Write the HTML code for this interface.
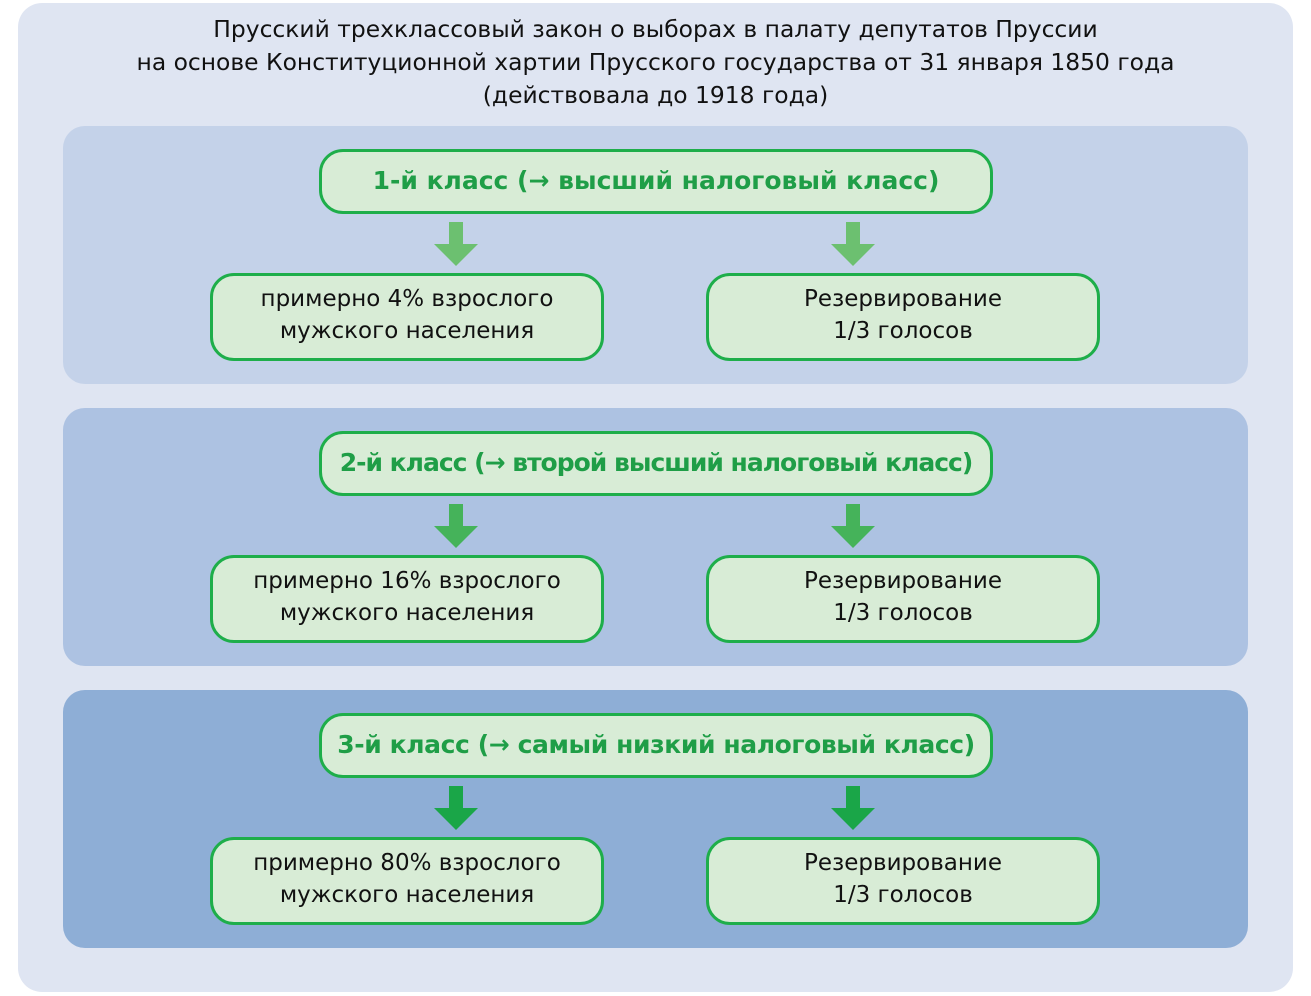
<!DOCTYPE html><html><head><meta charset="utf-8"><style>
body{margin:0;width:1311px;height:996px;background:#fff;position:relative;font-family:"DejaVu Sans","Liberation Sans",sans-serif;overflow:hidden}
.a{position:absolute}
.outer{left:18px;top:3px;width:1275px;height:989px;background:#dfe5f2;border-radius:24px}
.title{left:18px;width:1275px;top:13px;text-align:center;font-size:23.4px;line-height:33px;color:#111}
.band{left:63px;width:1185px;height:258px;border-radius:22px}
.h{left:319px;width:668px;height:56px;border:3px solid #1eae4a;background:#d8ecd6;border-radius:24px;display:flex;align-items:center;justify-content:center;color:#1f9e47;font-weight:bold;font-size:25px;white-space:nowrap;padding-bottom:3px;box-sizing:content-box}
.s{width:388px;height:77px;border:3px solid #1eae4a;background:#d8ecd6;border-radius:24px;display:flex;align-items:center;justify-content:center;text-align:center;font-size:23px;line-height:32px;color:#111;padding-bottom:5px;box-sizing:content-box}
</style></head><body>
<div class="a outer"></div>
<div class="a title">Прусский трехклассовый закон о выборах в палату депутатов Пруссии<br>на основе Конституционной хартии Прусского государства от 31 января 1850 года<br>(действовала до 1918 года)</div>
<div class="a band" style="top:126px;background:#c4d2e9"></div>
<div class="a band" style="top:408px;background:#adc2e2"></div>
<div class="a band" style="top:690px;background:#8eaed6"></div>

<div class="a h" style="top:149px">1-й класс (→ высший налоговый класс)</div>
<div class="a h" style="top:431px;letter-spacing:-1px">2-й класс (→ второй высший налоговый класс)</div>
<div class="a h" style="top:713px;letter-spacing:-0.4px">3-й класс (→ самый низкий налоговый класс)</div>

<div class="a s" style="left:210px;top:273px">примерно 4% взрослого<br>мужского населения</div>
<div class="a s" style="left:706px;top:273px">Резервирование<br>1/3 голосов</div>
<div class="a s" style="left:210px;top:555px">примерно 16% взрослого<br>мужского населения</div>
<div class="a s" style="left:706px;top:555px">Резервирование<br>1/3 голосов</div>
<div class="a s" style="left:210px;top:837px">примерно 80% взрослого<br>мужского населения</div>
<div class="a s" style="left:706px;top:837px">Резервирование<br>1/3 голосов</div>

<svg class="a" style="left:0;top:0" width="1311" height="996">
<g fill="#6cc070"><polygon points="449,222 463,222 463,244 478,244 456,266 434,244 449,244"/><polygon points="846,222 860,222 860,244 875,244 853,266 831,244 846,244"/></g>
<g fill="#45b35a"><polygon points="449,504 463,504 463,526 478,526 456,548 434,526 449,526"/><polygon points="846,504 860,504 860,526 875,526 853,548 831,526 846,526"/></g>
<g fill="#1aa648"><polygon points="449,786 463,786 463,808 478,808 456,830 434,808 449,808"/><polygon points="846,786 860,786 860,808 875,808 853,830 831,808 846,808"/></g>
</svg>
</body></html>
